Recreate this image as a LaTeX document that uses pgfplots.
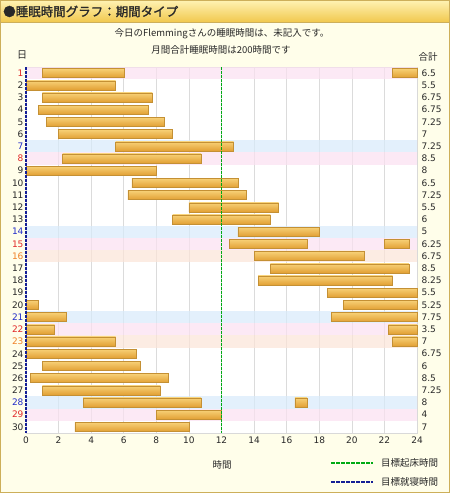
\documentclass[border=0pt]{standalone}
\usepackage{pgfplots}
\pgfplotsset{compat=1.18}
\usepackage{fontspec}
\setmainfont{DejaVu Sans}
\newfontfamily\cjk{Noto Sans CJK JP}
\newfontfamily\cjkb[FakeBold=1.5]{Noto Sans CJK JP}
\definecolor{bodybg}{RGB}{255,254,234}
\definecolor{hdtop}{RGB}{255,243,180}
\definecolor{hdbot}{RGB}{241,200,78}
\definecolor{frame}{RGB}{205,175,90}
\definecolor{pinkb}{RGB}{251,225,241}
\definecolor{blueb}{RGB}{216,235,251}
\definecolor{peachb}{RGB}{252,228,216}
\definecolor{dred}{RGB}{225,40,40}
\definecolor{dblue}{RGB}{35,45,200}
\definecolor{dorange}{RGB}{240,130,40}
\definecolor{bartop}{RGB}{247,208,118}
\definecolor{barmid}{RGB}{238,184,80}
\definecolor{barbot}{RGB}{226,160,52}
\definecolor{barline}{RGB}{196,144,52}
\definecolor{goalgreen}{RGB}{0,170,20}
\definecolor{goalblue}{RGB}{20,30,150}
\definecolor{txt}{RGB}{40,40,40}
\newcommand\band[2]{\pgfmathsetmacro\ya{#1-0.5}\pgfmathsetmacro\yb{#1+0.5}%
  \edef\tmp{\noexpand\addplot[fill=#2, fill opacity=0.7, draw=none] coordinates {(0,\ya) (24,\ya) (24,\yb) (0,\yb)} -- cycle;}\tmp}
\newcommand\seg[3]{\pgfmathsetmacro\ya{#1-0.37}\pgfmathsetmacro\yb{#1+0.37}%
  \edef\tmp{\noexpand\addplot[draw=barline, line width=0.5pt, top color=bartop, middle color=barmid, bottom color=barbot] coordinates {(#2,\ya) (#3,\ya) (#3,\yb) (#2,\yb)} -- cycle;}\tmp}
\begin{document}
\begin{tikzpicture}[x=1pt,y=1pt]
\path[use as bounding box] (0,0) rectangle (450,493);
\fill[bodybg] (0,0) rectangle (450,471);
\shade[top color=hdtop,bottom color=hdbot] (0,471) rectangle (450,493);
\draw[frame] (0,471) -- (450,471);
\draw[frame, line width=1.2pt] (0.6,0.6) rectangle (449.4,492.4);
\node[anchor=west, inner sep=0, text=txt] at (3,481.5) {\fontsize{12.5}{13}\selectfont\cjkb ●睡眠時間グラフ：期間タイプ};
\node[text=txt, inner sep=0] at (222,459) {\fontsize{9.5}{11}\selectfont\cjk 今日のFlemmingさんの睡眠時間は、未記入です。};
\node[text=txt, inner sep=0] at (221,443) {\fontsize{9.5}{11}\selectfont\cjk 月間合計睡眠時間は200時間です};
\node[text=txt, inner sep=0] at (22,438) {\fontsize{10}{11}\selectfont\cjk 日};
\node[text=txt, inner sep=0] at (428,436) {\fontsize{9.5}{11}\selectfont\cjk 合計};
\node[text=txt, inner sep=0] at (222,28) {\fontsize{9.5}{11}\selectfont\cjk 時間};
\draw[goalgreen, line width=1.3pt, dash pattern=on 3.5pt off 1.5pt] (331,30) -- (373,30);
\node[anchor=west, text=txt, inner sep=0] at (381,30) {\fontsize{9.5}{11}\selectfont\cjk 目標起床時間};
\draw[goalblue, line width=1.3pt, dash pattern=on 3.5pt off 1.5pt] (331,11) -- (373,11);
\node[anchor=west, text=txt, inner sep=0] at (381,11) {\fontsize{9.5}{11}\selectfont\cjk 目標就寝時間};
\begin{axis}[
  at={(26pt,60pt)}, anchor=south west,
  width=391pt, height=366pt, scale only axis,
  xmin=0, xmax=24, ymin=0.5, ymax=30.5, y dir=reverse,
  clip=false,
  axis background/.style={fill=white},
  axis line style={draw=black!15},
  xtick={0,2,...,24}, ytick={1,...,30},
  yticklabels={{\color{dred}1},2,3,4,5,6,{\color{dblue}7},{\color{dred}8},9,10,11,12,13,{\color{dblue}14},{\color{dred}15},{\color{dorange}16},17,18,19,20,{\color{dblue}21},{\color{dred}22},{\color{dorange}23},24,25,26,27,{\color{dblue}28},{\color{dred}29},30},
  major tick length=0pt,
  xmajorgrids, grid style={draw=black!14, line width=0.6pt},
  /pgf/number format/assume math mode=true,
  tick label style={font=\fontsize{9}{10}\selectfont, text=txt},
  yticklabel style={xshift=1pt},
]
\band{1}{pinkb}\band{8}{pinkb}\band{15}{pinkb}\band{22}{pinkb}\band{29}{pinkb}
\band{7}{blueb}\band{14}{blueb}\band{21}{blueb}\band{28}{blueb}
\band{16}{peachb}\band{23}{peachb}
\seg{1}{1}{6}\seg{1}{22.5}{24}
\seg{2}{0}{5.5}
\seg{3}{1}{7.75}
\seg{4}{0.75}{7.5}
\seg{5}{1.25}{8.5}
\seg{6}{2}{9}
\seg{7}{5.5}{12.75}
\seg{8}{2.25}{10.75}
\seg{9}{0}{8}
\seg{10}{6.5}{13}
\seg{11}{6.25}{13.5}
\seg{12}{10}{15.5}
\seg{13}{9}{15}
\seg{14}{13}{18}
\seg{15}{12.5}{17.25}\seg{15}{22}{23.5}
\seg{16}{14}{20.75}
\seg{17}{15}{23.5}
\seg{18}{14.25}{22.5}
\seg{19}{18.5}{24}
\seg{20}{0}{0.75}\seg{20}{19.5}{24}
\seg{21}{0}{2.5}\seg{21}{18.75}{24}
\seg{22}{0}{1.75}\seg{22}{22.25}{24}
\seg{23}{0}{5.5}\seg{23}{22.5}{24}
\seg{24}{0}{6.75}
\seg{25}{1}{7}
\seg{26}{0.25}{8.75}
\seg{27}{1}{8.25}
\seg{28}{3.5}{10.75}\seg{28}{16.5}{17.25}
\seg{29}{8}{12}
\seg{30}{3}{10}
\end{axis}
\begin{axis}[
  at={(26pt,60pt)}, anchor=south west,
  width=391pt, height=366pt, scale only axis,
  xmin=0, xmax=24, ymin=0.5, ymax=30.5, y dir=reverse,
  clip=false,
  axis line style={draw=none},
  xtick=\empty, ytick={1,...,30},
  yticklabel pos=right,
  yticklabels={6.5,5.5,6.75,6.75,7.25,7,7.25,8.5,8,6.5,7.25,5.5,6,5,6.25,6.75,8.5,8.25,5.5,5.25,7.75,3.5,7,6.75,6,8.5,7.25,8,4,7},
  major tick length=0pt,
  tick label style={font=\fontsize{9}{10}\selectfont, text=txt},
  yticklabel style={xshift=1pt},
]
\addplot[goalgreen, solid, line width=1.6pt, dash pattern=on 2.5pt off 1.5pt, mark=none] table[row sep=\\] {x y\\ 12 0.5\\ 12 30.5\\};
\addplot[goalblue, solid, line width=1.6pt, dash pattern=on 2.5pt off 1.5pt, mark=none] table[row sep=\\] {x y\\ 0 0.5\\ 0 30.5\\};
\end{axis}
\end{tikzpicture}
\end{document}
